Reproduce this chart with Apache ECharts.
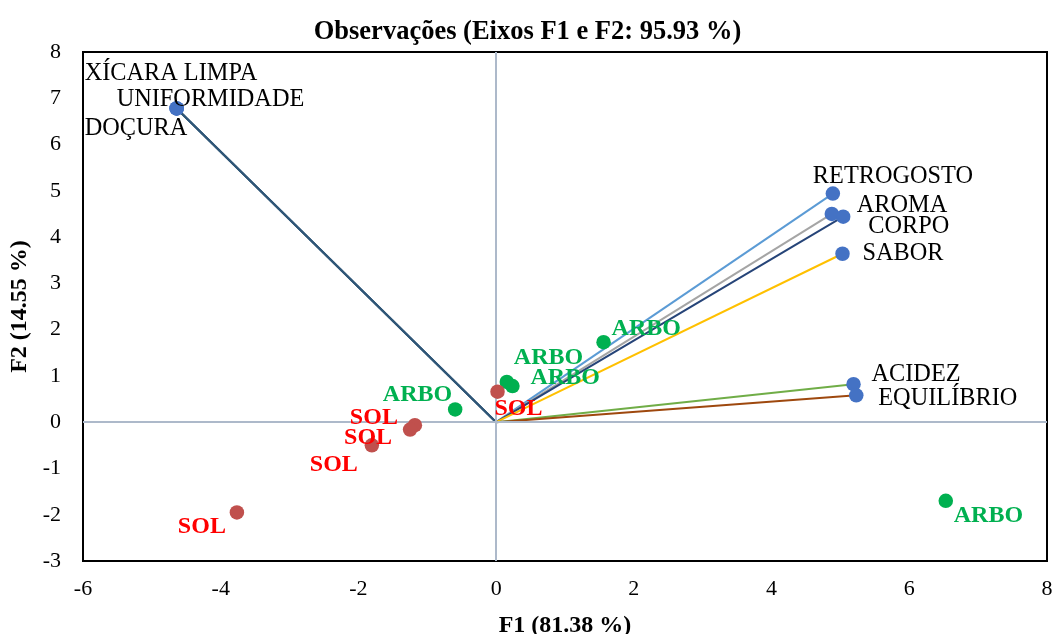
<!DOCTYPE html>
<html>
<head>
<meta charset="utf-8">
<script src="https://cdn.jsdelivr.net/npm/echarts@6/dist/echarts.min.js"></script>
<style>
  html, body { margin: 0; padding: 0; background: #fff; }
  #chart { width: 1055px; height: 634px; }
</style>
</head>
<body>
<div id="chart"></div>
<script>
// PCA biplot: variable loadings (vectors) and observations on F1/F2
const variables = ['XÍCARA LIMPA', 'UNIFORMIDADE', 'DOÇURA', 'RETROGOSTO', 'AROMA', 'CORPO', 'SABOR', 'ACIDEZ', 'EQUILÍBRIO'];
const varF1 = [-4.64, -4.64, -4.64, 4.89, 4.875, 5.04, 5.03, 5.19, 5.23];
const varF2 = [6.78, 6.78, 6.78, 4.94, 4.50, 4.44, 3.64, 0.82, 0.58];

const arboF1 = [1.56, 0.155, 0.237, -0.595, 6.53];
const arboF2 = [1.73, 0.87, 0.78, 0.275, -1.70];
const solF1 = [0.02, -1.18, -1.25, -1.805, -3.765];
const solF2 = [0.66, -0.065, -0.16, -0.50, -1.95];

const xTicks = { min: -6, max: 8, step: 2 };
const yTicks = { min: -3, max: 8, step: 1 };

// vector colours, one per variable
const vectorColors = ['#2F5677', '#2F5677', '#2F5677', '#5B9BD5', '#A5A5A5', '#264478', '#FFC000', '#70AD47', '#9E480E'];

// label placement: [align, dx, dy] relative to the point centre
const varLabelPlace = [
  ['left', -92, -35], ['left', -60, -9], ['left', -92, 20],
  ['left', -20, -17], ['left', 25, -8], ['left', 25, 10],
  ['left', 20, 0], ['left', 18, -10], ['left', 22, 3]
];
const arboLabelPlace = [['left', 8, -13], ['left', 7, -24], ['left', 18, -8], ['right', -3, -15], ['left', 8, 15]];
const solLabelPlace = [['left', -3, 17], ['right', -17, -7], ['right', -18, 8], ['right', -14, 19], ['right', -11, 14]];

const serif = "'Liberation Serif', 'Times New Roman', serif";

function labelFor(place, text, color, bold) {
  return {
    show: true,
    position: 'inside',
    align: place[0],
    verticalAlign: 'middle',
    offset: [place[1], place[2]],
    formatter: text,
    color: color,
    fontFamily: serif,
    fontSize: bold ? 24 : 24.3,
    fontWeight: bold ? 'bold' : 'normal'
  };
}

const series = [];

// zero reference lines
series.push({
  type: 'line',
  data: [],
  silent: true,
  markLine: {
    silent: true,
    symbol: 'none',
    label: { show: false },
    lineStyle: { color: '#ADB9CA', width: 2, type: 'solid' },
    data: [{ xAxis: 0 }, { yAxis: 0 }]
  },
  z: 1
});

// loading vectors from the origin
variables.forEach((name, i) => {
  series.push({
    type: 'line',
    data: [[0, 0], [varF1[i], varF2[i]]],
    showSymbol: false,
    symbol: 'none',
    silent: true,
    lineStyle: { color: vectorColors[i], width: 2 },
    z: 2
  });
});

// variable points
series.push({
  type: 'scatter',
  symbolSize: 14.5,
  itemStyle: { color: '#4472C4', opacity: 1 },
  data: variables.map((name, i) => ({
    value: [varF1[i], varF2[i]],
    label: labelFor(varLabelPlace[i], name, '#000', false)
  })),
  z: 5
});

// observations
series.push({
  type: 'scatter',
  symbolSize: 14.5,
  itemStyle: { color: '#00B050', opacity: 1 },
  data: arboF1.map((v, i) => ({
    value: [v, arboF2[i]],
    label: labelFor(arboLabelPlace[i], 'ARBO', '#00B050', true)
  })),
  z: 5
});
series.push({
  type: 'scatter',
  symbolSize: 14.5,
  itemStyle: { color: '#C0504D', opacity: 1 },
  data: solF1.map((v, i) => ({
    value: [v, solF2[i]],
    label: labelFor(solLabelPlace[i], 'SOL', '#FF0000', true)
  })),
  z: 5
});

const chart = echarts.init(document.getElementById('chart'), null, { renderer: 'canvas' });
chart.setOption({
  animation: false,
  backgroundColor: '#fff',
  title: {
    text: 'Observações (Eixos F1 e F2: 95.93 %)',
    left: 'center',
    top: 14,
    textStyle: { fontFamily: serif, fontSize: 26.5, fontWeight: 'bold', color: '#000' }
  },
  grid: {
    left: 83, right: 8, top: 52, bottom: 73,
    outerBoundsMode: 'none',
    containLabel: false,
    show: true, borderColor: '#000', borderWidth: 2, backgroundColor: 'transparent'
  },
  xAxis: {
    type: 'value',
    min: xTicks.min, max: xTicks.max, interval: xTicks.step,
    name: 'F1 (81.38 %)',
    nameLocation: 'middle',
    nameGap: 53,
    nameTextStyle: { fontFamily: serif, fontSize: 24, fontWeight: 'bold', color: '#000' },
    axisLine: { show: false },
    axisTick: { show: false },
    splitLine: { show: false },
    axisLabel: { fontFamily: serif, fontSize: 22, color: '#000', margin: 17 }
  },
  yAxis: {
    type: 'value',
    min: yTicks.min, max: yTicks.max, interval: yTicks.step,
    name: 'F2 (14.55 %)',
    nameLocation: 'middle',
    nameGap: 46,
    nameTextStyle: { fontFamily: serif, fontSize: 24, fontWeight: 'bold', color: '#000' },
    axisLine: { show: false },
    axisTick: { show: false },
    splitLine: { show: false },
    axisLabel: { fontFamily: serif, fontSize: 22, color: '#000', margin: 22 }
  },
  series: series
});
</script>
</body>
</html>
